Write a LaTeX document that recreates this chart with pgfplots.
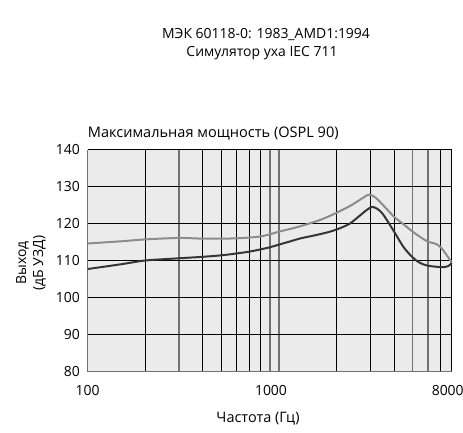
\documentclass[border=0pt]{standalone}
\usepackage{pgfplots}
\pgfplotsset{compat=1.18}
\usepackage{fontspec}
\setmainfont{Open Sans}
\definecolor{bgc}{HTML}{EBEBEB}
\definecolor{lg}{HTML}{8C8C8C}
\definecolor{dk}{HTML}{353535}
\definecolor{gg}{HTML}{727272}
\begin{document}
\begin{tikzpicture}[x=1bp,y=1bp]
\useasboundingbox (0,0) rectangle (463,432);
\fontsize{14}{16}\selectfont
\node[anchor=center] at (266,397) {МЭК 60118-0: 1983\_AMD1:1994};
\node[anchor=center] at (262,378.7) {Симулятор уха IEC 711};
\node[anchor=west,inner sep=0pt,font=\fontsize{14.6}{17}\selectfont] at (87.7,298.7) {Максимальная мощность (OSPL 90)};
\node[anchor=center,font=\fontsize{14.5}{17}\selectfont] at (258,13) {Частота (Гц)};
\node[rotate=90,align=center,anchor=center,font=\fontsize{14}{17}\selectfont] at (31,169) {Выход\\(дБ УЗД)};
\begin{axis}[
  at={(87.7bp,60.5bp)}, anchor=south west,
  scale only axis, width=364bp, height=222bp,
  xmode=log, xmin=100, xmax=8000, ymin=80, ymax=140,
  axis line style={draw=none},
  axis background/.style={fill=bgc},
  xtick={100,1000,8000},
  xticklabels={100,{\makebox[0pt][c]{\hspace*{-16bp}1000}},{\makebox[0pt][c]{\hspace*{-8bp}8000}}},
  minor xtick={100,300,900,1000,5000,6000},
  xminorgrids=true,
  minor grid style={gg, line width=1.5bp},
  extra x ticks={200,400,500,600,700,800,2000,3000,4000,7000,8000},
  extra x tick labels={},
  extra x tick style={xmajorgrids=true, major grid style={black, line width=0.8bp}},
  ytick={90,100,110,120,130,140},
  ymajorgrids=true,
  major grid style={black, line width=0.8bp},
  extra y ticks={80},
  extra y tick labels={80},
  extra y tick style={ymajorgrids=true, major grid style={gg, line width=1.5bp}},
  major tick length=0pt, minor tick length=0pt,
  tick style={draw=none},
  log ticks with fixed point,
  /pgf/number format/assume math mode=true,
  ticklabel style={font=\fontsize{14}{16}\selectfont},
  xticklabel style={yshift=-9bp},
  yticklabel style={xshift=-3bp},
  clip=false,
]
\addplot[lg, line width=2bp, smooth, tension=0.5] coordinates {
(100,114.6)(150,115.2)(200,115.7)(300,116.1)(400,115.9)(500,115.9)(600,116.0)(700,116.2)(800,116.5)(900,117.1)(1000,117.8)(1200,118.8)(1400,119.8)(1650,121.0)(2000,122.9)(2400,125.0)(2800,127.2)(2970,127.8)(3200,127.0)(3600,124.3)(4000,121.8)(4500,119.7)(5000,117.8)(5500,116.3)(6000,115.1)(6600,114.5)(7000,113.6)(7400,112.0)(8000,109.5)
};
\addplot[dk, line width=2bp, smooth, tension=0.5] coordinates {
(100,107.7)(150,109.0)(200,110.0)(300,110.6)(400,111.0)(500,111.4)(600,111.9)(700,112.4)(800,113.0)(900,113.6)(1000,114.3)(1150,115.2)(1300,116.0)(1570,116.9)(1850,117.8)(2100,118.8)(2350,120.0)(2600,121.8)(2900,123.8)(3085,124.5)(3300,123.8)(3520,122.3)(4000,117.8)(4470,113.7)(4960,111.0)(5440,109.4)(6000,108.6)(7100,108.2)(7680,108.5)(8000,109.3)
};
\end{axis}
\end{tikzpicture}
\end{document}
